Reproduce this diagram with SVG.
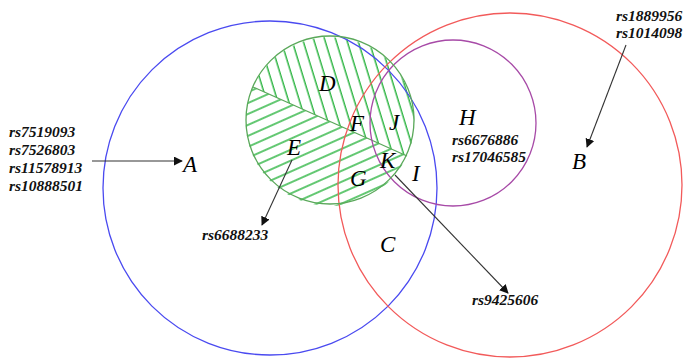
<svg xmlns="http://www.w3.org/2000/svg" width="686" height="360" viewBox="0 0 686 360">
<style>
.c{fill:none;stroke-width:1.3}
.L{font-family:"Liberation Serif",serif;font-style:italic;font-size:23px;fill:#000}
.s{font-family:"Liberation Serif",serif;font-style:italic;font-weight:bold;font-size:15.5px;fill:#111}
.a{stroke:#333;stroke-width:1.1;fill:none;marker-end:url(#ah)}
</style>
<defs>
<marker id="ah" viewBox="0 0 10 10" refX="9" refY="5" markerWidth="9" markerHeight="9" markerUnits="userSpaceOnUse" orient="auto">
<path d="M0,0 L10,5 L0,10 z" fill="#111"/>
</marker>
<pattern id="pu" width="10.5" height="10.5" patternUnits="userSpaceOnUse" patternTransform="rotate(-17)">
<line x1="5" y1="0" x2="5" y2="10.5" stroke="#2fb544" stroke-width="1.5"/>
</pattern>
<pattern id="pl" width="10" height="10" patternUnits="userSpaceOnUse" patternTransform="rotate(-24)">
<line x1="0" y1="5" x2="10" y2="5" stroke="#2fb544" stroke-width="1.5"/>
</pattern>
</defs>
<rect width="686" height="360" fill="#fff"/>
<g id="hatch">
<path d="M253,87 L407,156 A84,84 0 1,0 253,87 z" fill="url(#pu)"/>
<path d="M253,87 L407,156 A84,84 0 0,1 253,87 z" fill="url(#pl)"/>
<line x1="253" y1="87" x2="407" y2="156" stroke="#5aa85a" stroke-width="1.2"/>
</g>
<g id="nodeA"><circle class="c" cx="270" cy="188" r="167" stroke="#4a4af0"/><text class="L" x="183" y="172">A</text></g>
<g id="nodeB"><circle class="c" cx="510" cy="185" r="172" stroke="#f25a5a"/><text class="L" x="572" y="169">B</text></g>
<g id="nodeH"><circle class="c" cx="453" cy="123" r="83" stroke="#a74aa7"/><text class="L" x="459" y="125">H</text></g>
<g id="nodeDEG"><circle class="c" cx="330" cy="120" r="84" stroke="#5aa85a"/></g>
<g id="regions">
<text class="L" x="319" y="91">D</text>
<text class="L" x="287" y="155">E</text>
<text class="L" x="350" y="131">F</text>
<text class="L" x="350" y="186">G</text>
<text class="L" x="412" y="181">I</text>
<text class="L" x="389" y="130">J</text>
<text class="L" x="380" y="168">K</text>
<text class="L" x="380" y="252">C</text>
</g>
<g id="labels">
<text class="s" x="9" y="137">rs7519093</text>
<text class="s" x="9" y="155">rs7526803</text>
<text class="s" x="9" y="173">rs11578913</text>
<text class="s" x="9" y="191">rs10888501</text>
<text class="s" x="616" y="21">rs1889956</text>
<text class="s" x="616" y="38">rs1014098</text>
<text class="s" x="452" y="145">rs6676886</text>
<text class="s" x="452" y="162">rs17046585</text>
<text class="s" x="202" y="240">rs6688233</text>
<text class="s" x="472" y="305">rs9425606</text>
</g>
<g id="connectors">
<line class="a" x1="92" y1="161" x2="182" y2="161"/>
<line class="a" x1="626" y1="45" x2="587" y2="147"/>
<line class="a" x1="292" y1="160" x2="262" y2="225"/>
<line class="a" x1="395" y1="175" x2="508" y2="293"/>
</g>
</svg>
